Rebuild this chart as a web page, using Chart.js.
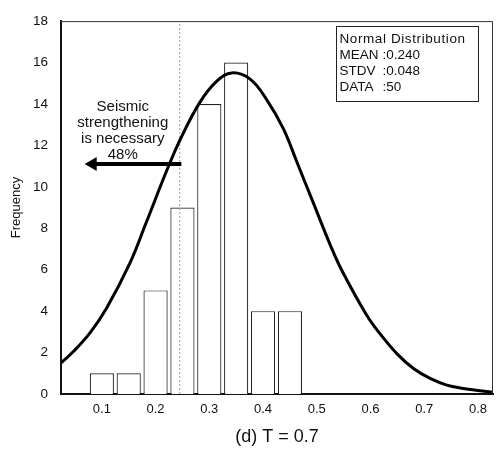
<!DOCTYPE html>
<html><head><meta charset="utf-8">
<script src="https://cdn.jsdelivr.net/npm/chart.js@4.4.1/dist/chart.umd.min.js"></script>
<style>html,body{margin:0;padding:0;background:#fff;}#wrap{width:502px;height:450px;position:relative;}</style>
</head><body><div id="wrap"><canvas id="c" width="502" height="450"></canvas></div>
<script>
// ---- data ----
const binCenters = [0.10, 0.15, 0.20, 0.25, 0.30, 0.35, 0.40, 0.45];
const frequencies = [1, 1, 5, 9, 14, 16, 4, 4];
const curveX = [0.024, 0.047, 0.078, 0.109, 0.152, 0.183, 0.221, 0.248, 0.283, 0.314, 0.342, 0.376, 0.407, 0.438, 0.463, 0.494, 0.525, 0.546, 0.593, 0.618, 0.649, 0.680, 0.711, 0.742, 0.773, 0.804, 0.828];
const curveY = [1.5, 2.05, 2.95, 4.15, 6.3, 8.3, 10.8, 12.4, 14.1, 15.1, 15.5, 15.2, 14.2, 12.8, 11.2, 9.2, 7.2, 6.0, 3.8, 2.9, 1.95, 1.23, 0.75, 0.43, 0.27, 0.16, 0.08];
const xTickValues = [0.1, 0.2, 0.3, 0.4, 0.5, 0.6, 0.7, 0.8];
const xTickLabels = ['0.1', '0.2', '0.3', '0.4', '0.5', '0.6', '0.7', '0.8'];
const yTickValues = [0, 2, 4, 6, 8, 10, 12, 14, 16, 18];
const thresholdX = [0.245, 0.245];
const thresholdY = [0, 18];
const arrowX = [0.083, 0.248];
const arrowY = [11.1, 11.1];
const noteLines = ['Seismic', 'strengthening', 'is necessary', '48%'];
const statsTitle = 'Normal Distribution';
const statsLabels = ['MEAN', 'STDV', 'DATA'];
const statsValues = [':0.240', ':0.048', ':50'];
const xAxisTitle = '(d) T = 0.7';
const yAxisTitle = 'Frequency';

const FONT = "'Liberation Sans', Arial, sans-serif";

const annotations = {
  id: 'annotations',
  afterDatasetsDraw(chart) {
    const ctx = chart.ctx, a = chart.chartArea;
    const xs = chart.scales.x, ys = chart.scales.y;
    ctx.save();
    // thin frame top/right
    ctx.strokeStyle = '#333';
    ctx.lineWidth = 1;
    ctx.beginPath();
    ctx.moveTo(a.left, a.top + 0.5);
    ctx.lineTo(a.right - 0.5, a.top + 0.5);
    ctx.lineTo(a.right - 0.5, a.bottom);
    ctx.stroke();
    // note
    ctx.fillStyle = '#111';
    ctx.font = '15px ' + FONT;
    ctx.textAlign = 'center';
    ctx.textBaseline = 'middle';
    const nx = xs.getPixelForValue(0.139);
    const ny = ys.getPixelForValue(13.87);
    noteLines.forEach((t, i) => ctx.fillText(t, nx, ny + i * 16.2));
    // stats box
    const bx0 = xs.getPixelForValue(0.5366), bx1 = xs.getPixelForValue(0.800);
    const by0 = ys.getPixelForValue(17.76), by1 = ys.getPixelForValue(14.16);
    ctx.fillStyle = '#fff';
    ctx.fillRect(bx0, by0, bx1 - bx0, by1 - by0);
    ctx.strokeStyle = '#222';
    ctx.strokeRect(Math.round(bx0) + 0.5, Math.round(by0) + 0.5, Math.round(bx1 - bx0), Math.round(by1 - by0));
    ctx.fillStyle = '#111';
    ctx.font = '13.5px ' + FONT;
    ctx.textAlign = 'left';
    ctx.letterSpacing = '0.6px';
    ctx.fillText(statsTitle, bx0 + 3, by0 + 13.5);
    ctx.letterSpacing = '0px';
    const labW = Math.max(...statsLabels.map(t => ctx.measureText(t).width));
    statsLabels.forEach((t, i) => {
      const yy = by0 + 13.5 + (i + 1) * 16;
      ctx.fillText(t, bx0 + 3, yy);
      ctx.fillText(statsValues[i], bx0 + 3 + labW + 4, yy);
    });
    ctx.restore();
  }
};

new Chart(document.getElementById('c'), {
  type: 'bar',
  data: {
    datasets: [
      {
        type: 'line', order: 0,
        data: curveX.map((x, i) => ({ x, y: curveY[i] })),
        borderColor: '#000', borderWidth: 3, pointRadius: 0,
        tension: 0.4, fill: false
      },
      {
        type: 'line', order: 1,
        data: thresholdX.map((x, i) => ({ x, y: thresholdY[i] })),
        borderColor: '#9a9a9a', borderWidth: 1, borderDash: [2, 2], pointRadius: 0, fill: false
      },
      {
        type: 'line', order: 0,
        data: arrowX.map((x, i) => ({ x, y: arrowY[i] })),
        borderColor: '#000', borderWidth: 4, fill: false,
        pointStyle: 'triangle', pointRotation: -90,
        pointRadius: [8, 0], pointBackgroundColor: '#000', pointBorderColor: '#000', pointBorderWidth: 0
      },
      {
        type: 'bar', order: 2,
        data: binCenters.map((x, i) => ({ x, y: frequencies[i] })),
        backgroundColor: '#fff', borderColor: '#222', borderWidth: 1.2,
        barPercentage: 0.9, categoryPercentage: 1.0
      }
    ]
  },
  options: {
    responsive: false, animation: false, devicePixelRatio: 1,
    layout: { padding: { left: 0, right: 9, top: 19, bottom: 0 } },
    plugins: { legend: { display: false }, tooltip: { enabled: false } },
    scales: {
      x: {
        type: 'linear', min: 0.024, max: 0.828, offset: false,
        grid: { display: false, drawTicks: false, offset: false },
        border: { display: true, color: '#111', width: 2 },
        afterBuildTicks: s => { s.ticks = xTickValues.map(v => ({ value: v })); },
        afterFit: s => { s.height = 56; },
        ticks: {
          padding: 8, color: '#111', font: { family: FONT, size: 13 },
          callback: (v) => xTickLabels[xTickValues.indexOf(v)] ?? ''
        },
        title: { display: true, text: xAxisTitle, color: '#111', font: { family: FONT, size: 18 }, padding: { top: 0, bottom: 2 } }
      },
      y: {
        type: 'linear', min: 0, max: 18,
        grid: { display: false, drawTicks: false },
        border: { display: true, color: '#111', width: 2 },
        afterBuildTicks: s => { s.ticks = yTickValues.map(v => ({ value: v })); },
        afterFit: s => { s.width = 61; },
        ticks: { padding: 13, color: '#111', font: { family: FONT, size: 13.5 } },
        title: { display: true, text: yAxisTitle, color: '#111', font: { family: FONT, size: 13 }, padding: { top: 9, bottom: 0 } }
      }
    }
  },
  plugins: [annotations]
});
</script></body></html>
